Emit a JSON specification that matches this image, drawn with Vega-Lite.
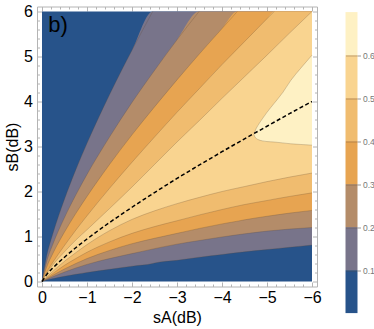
{
  "$schema": "https://vega.github.io/schema/vega-lite/v6.json",
  "padding": {"left": 4, "top": 2.5, "right": 0, "bottom": 0},
  "background": "white",
  "config": {"view": {"stroke": null}, "font": "Liberation Sans", "axis": {"grid": false}},
  "datasets": {
    "bg": [{"sA": 0, "sA2": -6, "sB": 0, "sB2": 6}],
    "regions": [
      {"r": "0.1", "sA": 0, "lo": 0, "hi": 0}, {"r": "0.1", "sA": -0.1, "lo": 0.033, "hi": 0.55}, {"r": "0.1", "sA": -0.25, "lo": 0.068, "hi": 1.09}, {"r": "0.1", "sA": -0.5, "lo": 0.116, "hi": 1.83}, {"r": "0.1", "sA": -0.75, "lo": 0.16, "hi": 2.48}, {"r": "0.1", "sA": -1, "lo": 0.2, "hi": 3.07}, {"r": "0.1", "sA": -1.5, "lo": 0.27, "hi": 4.15}, {"r": "0.1", "sA": -2, "lo": 0.34, "hi": 5.14}, {"r": "0.1", "sA": -2.46, "lo": 0.4, "hi": 6}, {"r": "0.1", "sA": -2.5, "lo": 0.41, "hi": 6}, {"r": "0.1", "sA": -3, "lo": 0.47, "hi": 6}, {"r": "0.1", "sA": -3.5, "lo": 0.54, "hi": 6}, {"r": "0.1", "sA": -4, "lo": 0.6, "hi": 6}, {"r": "0.1", "sA": -4.5, "lo": 0.66, "hi": 6}, {"r": "0.1", "sA": -5, "lo": 0.71, "hi": 6}, {"r": "0.1", "sA": -5.5, "lo": 0.76, "hi": 6}, {"r": "0.1", "sA": -6, "lo": 0.81, "hi": 6},
      {"r": "0.2", "sA": 0, "lo": 0, "hi": 0}, {"r": "0.2", "sA": -0.1, "lo": 0.045, "hi": 0.43}, {"r": "0.2", "sA": -0.25, "lo": 0.11, "hi": 0.85}, {"r": "0.2", "sA": -0.5, "lo": 0.21, "hi": 1.42}, {"r": "0.2", "sA": -0.75, "lo": 0.3, "hi": 1.92}, {"r": "0.2", "sA": -1, "lo": 0.38, "hi": 2.38}, {"r": "0.2", "sA": -1.5, "lo": 0.51, "hi": 3.21}, {"r": "0.2", "sA": -2, "lo": 0.62, "hi": 3.98}, {"r": "0.2", "sA": -2.5, "lo": 0.73, "hi": 4.69}, {"r": "0.2", "sA": -3, "lo": 0.83, "hi": 5.37}, {"r": "0.2", "sA": -3.49, "lo": 0.91, "hi": 6}, {"r": "0.2", "sA": -4, "lo": 0.99, "hi": 6}, {"r": "0.2", "sA": -4.5, "lo": 1.06, "hi": 6}, {"r": "0.2", "sA": -5, "lo": 1.12, "hi": 6}, {"r": "0.2", "sA": -5.5, "lo": 1.165, "hi": 6}, {"r": "0.2", "sA": -6, "lo": 1.2, "hi": 6},
      {"r": "0.3", "sA": 0, "lo": 0, "hi": 0}, {"r": "0.3", "sA": -0.1, "lo": 0.06, "hi": 0.31}, {"r": "0.3", "sA": -0.25, "lo": 0.145, "hi": 0.64}, {"r": "0.3", "sA": -0.5, "lo": 0.28, "hi": 1.1}, {"r": "0.3", "sA": -0.75, "lo": 0.4, "hi": 1.51}, {"r": "0.3", "sA": -1, "lo": 0.51, "hi": 1.89}, {"r": "0.3", "sA": -1.5, "lo": 0.69, "hi": 2.6}, {"r": "0.3", "sA": -2, "lo": 0.84, "hi": 3.26}, {"r": "0.3", "sA": -2.5, "lo": 0.96, "hi": 3.88}, {"r": "0.3", "sA": -3, "lo": 1.07, "hi": 4.48}, {"r": "0.3", "sA": -3.5, "lo": 1.18, "hi": 5.06}, {"r": "0.3", "sA": -4, "lo": 1.28, "hi": 5.62}, {"r": "0.3", "sA": -4.34, "lo": 1.34, "hi": 6}, {"r": "0.3", "sA": -4.5, "lo": 1.37, "hi": 6}, {"r": "0.3", "sA": -5, "lo": 1.45, "hi": 6}, {"r": "0.3", "sA": -5.5, "lo": 1.52, "hi": 6}, {"r": "0.3", "sA": -6, "lo": 1.58, "hi": 6},
      {"r": "0.4", "sA": 0, "lo": 0, "hi": 0}, {"r": "0.4", "sA": -0.1, "lo": 0.075, "hi": 0.2}, {"r": "0.4", "sA": -0.25, "lo": 0.185, "hi": 0.44}, {"r": "0.4", "sA": -0.5, "lo": 0.36, "hi": 0.8}, {"r": "0.4", "sA": -0.75, "lo": 0.51, "hi": 1.14}, {"r": "0.4", "sA": -1, "lo": 0.65, "hi": 1.46}, {"r": "0.4", "sA": -1.5, "lo": 0.88, "hi": 2.07}, {"r": "0.4", "sA": -2, "lo": 1.07, "hi": 2.65}, {"r": "0.4", "sA": -2.5, "lo": 1.22, "hi": 3.21}, {"r": "0.4", "sA": -3, "lo": 1.35, "hi": 3.76}, {"r": "0.4", "sA": -3.5, "lo": 1.48, "hi": 4.29}, {"r": "0.4", "sA": -4, "lo": 1.6, "hi": 4.82}, {"r": "0.4", "sA": -4.5, "lo": 1.71, "hi": 5.33}, {"r": "0.4", "sA": -5, "lo": 1.8, "hi": 5.84}, {"r": "0.4", "sA": -5.16, "lo": 1.83, "hi": 6}, {"r": "0.4", "sA": -5.5, "lo": 1.89, "hi": 6}, {"r": "0.4", "sA": -6, "lo": 1.97, "hi": 6},
      {"r": "0.5", "sA": 0, "lo": 0, "hi": 0}, {"r": "0.5", "sA": -0.1, "lo": 0.095, "hi": 0.17}, {"r": "0.5", "sA": -0.25, "lo": 0.235, "hi": 0.38}, {"r": "0.5", "sA": -0.5, "lo": 0.45, "hi": 0.66}, {"r": "0.5", "sA": -0.75, "lo": 0.64, "hi": 0.92}, {"r": "0.5", "sA": -1, "lo": 0.82, "hi": 1.15}, {"r": "0.5", "sA": -1.5, "lo": 1.13, "hi": 1.62}, {"r": "0.5", "sA": -2, "lo": 1.38, "hi": 2.1}, {"r": "0.5", "sA": -2.5, "lo": 1.57, "hi": 2.6}, {"r": "0.5", "sA": -3, "lo": 1.73, "hi": 3.1}, {"r": "0.5", "sA": -3.5, "lo": 1.87, "hi": 3.58}, {"r": "0.5", "sA": -4, "lo": 2.0, "hi": 4.07}, {"r": "0.5", "sA": -4.5, "lo": 2.11, "hi": 4.55}, {"r": "0.5", "sA": -5, "lo": 2.22, "hi": 5.03}, {"r": "0.5", "sA": -5.5, "lo": 2.32, "hi": 5.52}, {"r": "0.5", "sA": -6, "lo": 2.41, "hi": 6.0},
      {"r": "0.6", "sA": -4.71, "lo": 3.27, "hi": 3.27}, {"r": "0.6", "sA": -4.73, "lo": 3.215, "hi": 3.33}, {"r": "0.6", "sA": -4.76, "lo": 3.18, "hi": 3.4}, {"r": "0.6", "sA": -4.8, "lo": 3.155, "hi": 3.47}, {"r": "0.6", "sA": -4.9, "lo": 3.125, "hi": 3.62}, {"r": "0.6", "sA": -5, "lo": 3.11, "hi": 3.76}, {"r": "0.6", "sA": -5.16, "lo": 3.1, "hi": 3.96}, {"r": "0.6", "sA": -5.35, "lo": 3.08, "hi": 4.2}, {"r": "0.6", "sA": -5.53, "lo": 3.06, "hi": 4.47}, {"r": "0.6", "sA": -5.75, "lo": 3.045, "hi": 4.74}, {"r": "0.6", "sA": -6, "lo": 3.03, "hi": 5.03}
    ],
    "up": [
      {"c": "U1", "sA": 0, "sB": 0}, {"c": "U1", "sA": -0.1, "sB": 0.55}, {"c": "U1", "sA": -0.25, "sB": 1.09}, {"c": "U1", "sA": -0.5, "sB": 1.83}, {"c": "U1", "sA": -0.75, "sB": 2.48}, {"c": "U1", "sA": -1, "sB": 3.07}, {"c": "U1", "sA": -1.5, "sB": 4.15}, {"c": "U1", "sA": -2, "sB": 5.14}, {"c": "U1", "sA": -2.46, "sB": 6},
      {"c": "U2", "sA": 0, "sB": 0}, {"c": "U2", "sA": -0.1, "sB": 0.43}, {"c": "U2", "sA": -0.25, "sB": 0.85}, {"c": "U2", "sA": -0.5, "sB": 1.42}, {"c": "U2", "sA": -0.75, "sB": 1.92}, {"c": "U2", "sA": -1, "sB": 2.38}, {"c": "U2", "sA": -1.5, "sB": 3.21}, {"c": "U2", "sA": -2, "sB": 3.98}, {"c": "U2", "sA": -2.5, "sB": 4.69}, {"c": "U2", "sA": -3, "sB": 5.37}, {"c": "U2", "sA": -3.49, "sB": 6},
      {"c": "U3", "sA": 0, "sB": 0}, {"c": "U3", "sA": -0.1, "sB": 0.31}, {"c": "U3", "sA": -0.25, "sB": 0.64}, {"c": "U3", "sA": -0.5, "sB": 1.1}, {"c": "U3", "sA": -0.75, "sB": 1.51}, {"c": "U3", "sA": -1, "sB": 1.89}, {"c": "U3", "sA": -1.5, "sB": 2.6}, {"c": "U3", "sA": -2, "sB": 3.26}, {"c": "U3", "sA": -2.5, "sB": 3.88}, {"c": "U3", "sA": -3, "sB": 4.48}, {"c": "U3", "sA": -3.5, "sB": 5.06}, {"c": "U3", "sA": -4, "sB": 5.62}, {"c": "U3", "sA": -4.34, "sB": 6},
      {"c": "U4", "sA": 0, "sB": 0}, {"c": "U4", "sA": -0.1, "sB": 0.2}, {"c": "U4", "sA": -0.25, "sB": 0.44}, {"c": "U4", "sA": -0.5, "sB": 0.8}, {"c": "U4", "sA": -0.75, "sB": 1.14}, {"c": "U4", "sA": -1, "sB": 1.46}, {"c": "U4", "sA": -1.5, "sB": 2.07}, {"c": "U4", "sA": -2, "sB": 2.65}, {"c": "U4", "sA": -2.5, "sB": 3.21}, {"c": "U4", "sA": -3, "sB": 3.76}, {"c": "U4", "sA": -3.5, "sB": 4.29}, {"c": "U4", "sA": -4, "sB": 4.82}, {"c": "U4", "sA": -4.5, "sB": 5.33}, {"c": "U4", "sA": -5, "sB": 5.84}, {"c": "U4", "sA": -5.16, "sB": 6},
      {"c": "U5", "sA": 0, "sB": 0}, {"c": "U5", "sA": -0.1, "sB": 0.17}, {"c": "U5", "sA": -0.25, "sB": 0.38}, {"c": "U5", "sA": -0.5, "sB": 0.66}, {"c": "U5", "sA": -0.75, "sB": 0.92}, {"c": "U5", "sA": -1, "sB": 1.15}, {"c": "U5", "sA": -1.5, "sB": 1.62}, {"c": "U5", "sA": -2, "sB": 2.1}, {"c": "U5", "sA": -2.5, "sB": 2.6}, {"c": "U5", "sA": -3, "sB": 3.1}, {"c": "U5", "sA": -3.5, "sB": 3.58}, {"c": "U5", "sA": -4, "sB": 4.07}, {"c": "U5", "sA": -4.5, "sB": 4.55}, {"c": "U5", "sA": -5, "sB": 5.03}, {"c": "U5", "sA": -5.5, "sB": 5.52}, {"c": "U5", "sA": -6, "sB": 6.0},
      {"c": "U6", "sA": -4.71, "sB": 3.27}, {"c": "U6", "sA": -4.73, "sB": 3.33}, {"c": "U6", "sA": -4.76, "sB": 3.4}, {"c": "U6", "sA": -4.8, "sB": 3.47}, {"c": "U6", "sA": -4.9, "sB": 3.62}, {"c": "U6", "sA": -5, "sB": 3.76}, {"c": "U6", "sA": -5.16, "sB": 3.96}, {"c": "U6", "sA": -5.35, "sB": 4.2}, {"c": "U6", "sA": -5.53, "sB": 4.47}, {"c": "U6", "sA": -5.75, "sB": 4.74}, {"c": "U6", "sA": -6, "sB": 5.03}
    ],
    "dash": [
      {"sA": 0, "sB": 0}, {"sA": -0.1, "sB": 0.148}, {"sA": -0.25, "sB": 0.31}, {"sA": -0.5, "sB": 0.54}, {"sA": -0.75, "sB": 0.75}, {"sA": -1, "sB": 0.945}, {"sA": -1.5, "sB": 1.31}, {"sA": -2, "sB": 1.65}, {"sA": -2.5, "sB": 1.976}, {"sA": -3, "sB": 2.29}, {"sA": -3.5, "sB": 2.59}, {"sA": -4, "sB": 2.884}, {"sA": -4.5, "sB": 3.17}, {"sA": -5, "sB": 3.45}, {"sA": -5.5, "sB": 3.73}, {"sA": -6, "sB": 4.0}
    ],
    "label": [{"sA": -0.14, "sB": 5.55, "t": "b)"}],
    "bands": [
      {"band": "b0", "lo": 0, "hi": 0.1}, {"band": "b1", "lo": 0.1, "hi": 0.2}, {"band": "b2", "lo": 0.2, "hi": 0.3}, {"band": "b3", "lo": 0.3, "hi": 0.4}, {"band": "b4", "lo": 0.4, "hi": 0.5}, {"band": "b5", "lo": 0.5, "hi": 0.6}, {"band": "b6", "lo": 0.6, "hi": 0.7}
    ]
  },
  "hconcat": [
    {
      "width": 280,
      "height": 280,
      "layer": [
        {
          "data": {"name": "bg"},
          "mark": {"type": "rect", "color": "#27538a"},
          "encoding": {
            "x": {"field": "sA", "type": "quantitative", "scale": {"domain": [0.1111, -6.1111], "nice": false, "zero": false},
              "axis": {"orient": "bottom", "values": [0, -1, -2, -3, -4, -5, -6], "format": "d", "tickSize": -4.5,
                "domainColor": "#b4b4b4", "tickColor": "#b4b4b4", "labelColor": "black", "labelFontSize": 16, "labelFont": "Liberation Sans", "labelPadding": 7, "labelOverlap": false, "labelFlush": false,
                "title": "sA(dB)", "titleFontSize": 16, "titleFont": "Liberation Sans", "titleFontWeight": "normal", "titleColor": "black", "titlePadding": 4.5}},
            "x2": {"field": "sA2"},
            "y": {"field": "sB", "type": "quantitative", "scale": {"domain": [-0.1111, 6.1111], "nice": false, "zero": false},
              "axis": {"orient": "left", "values": [0, 1, 2, 3, 4, 5, 6], "format": "d", "tickSize": -4.5,
                "domainColor": "#b4b4b4", "tickColor": "#b4b4b4", "labelColor": "black", "labelFontSize": 16, "labelFont": "Liberation Sans", "labelPadding": 9, "labelOverlap": false, "labelFlush": false,
                "title": "sB(dB)", "titleFontSize": 16, "titleFont": "Liberation Sans", "titleFontWeight": "normal", "titleColor": "black", "titlePadding": 3}},
            "y2": {"field": "sB2"}
          }
        },
        {
          "data": {"name": "regions"},
          "transform": [{"filter": {"field": "r", "equal": "0.1"}}],
          "mark": {"type": "area", "color": "#78748a", "interpolate": "monotone", "clip": true},
          "encoding": {
            "x": {"field": "sA", "type": "quantitative", "scale": {"domain": [0.1111, -6.1111], "nice": false, "zero": false},
              "axis": {"orient": "bottom", "values": [-0.2, -0.4, -0.6, -0.8, -1.2, -1.4, -1.6, -1.8, -2.2, -2.4, -2.6, -2.8, -3.2, -3.4, -3.6, -3.8, -4.2, -4.4, -4.6, -4.8, -5.2, -5.4, -5.6, -5.8],
                "labels": false, "title": null, "domain": false, "tickSize": -2.5, "tickColor": "#b4b4b4"}},
            "y": {"field": "lo", "type": "quantitative", "scale": {"domain": [-0.1111, 6.1111], "nice": false, "zero": false},
              "axis": {"orient": "left", "values": [0.2, 0.4, 0.6, 0.8, 1.2, 1.4, 1.6, 1.8, 2.2, 2.4, 2.6, 2.8, 3.2, 3.4, 3.6, 3.8, 4.2, 4.4, 4.6, 4.8, 5.2, 5.4, 5.6, 5.8],
                "labels": false, "title": null, "domain": false, "tickSize": -2.5, "tickColor": "#b4b4b4"}},
            "y2": {"field": "hi"}
          }
        },
        {
          "data": {"name": "regions"},
          "transform": [{"filter": {"field": "r", "equal": "0.2"}}],
          "mark": {"type": "area", "color": "#b48c69", "interpolate": "monotone", "clip": true},
          "encoding": {
            "x": {"field": "sA", "type": "quantitative", "scale": {"domain": [0.1111, -6.1111], "nice": false, "zero": false},
              "axis": {"orient": "top", "values": [0, -1, -2, -3, -4, -5, -6], "labels": false, "title": null, "tickSize": -4.5, "domainColor": "#b4b4b4", "tickColor": "#b4b4b4"}},
            "y": {"field": "lo", "type": "quantitative", "scale": {"domain": [-0.1111, 6.1111], "nice": false, "zero": false},
              "axis": {"orient": "right", "values": [0, 1, 2, 3, 4, 5, 6], "labels": false, "title": null, "tickSize": -4.5, "domainColor": "#b4b4b4", "tickColor": "#b4b4b4"}},
            "y2": {"field": "hi"}
          }
        },
        {
          "data": {"name": "regions"},
          "transform": [{"filter": {"field": "r", "equal": "0.3"}}],
          "mark": {"type": "area", "color": "#e7a451", "interpolate": "monotone", "clip": true},
          "encoding": {
            "x": {"field": "sA", "type": "quantitative", "scale": {"domain": [0.1111, -6.1111], "nice": false, "zero": false},
              "axis": {"orient": "top", "values": [-0.2, -0.4, -0.6, -0.8, -1.2, -1.4, -1.6, -1.8, -2.2, -2.4, -2.6, -2.8, -3.2, -3.4, -3.6, -3.8, -4.2, -4.4, -4.6, -4.8, -5.2, -5.4, -5.6, -5.8],
                "labels": false, "title": null, "domain": false, "tickSize": -2.5, "tickColor": "#b4b4b4"}},
            "y": {"field": "lo", "type": "quantitative", "scale": {"domain": [-0.1111, 6.1111], "nice": false, "zero": false},
              "axis": {"orient": "right", "values": [0.2, 0.4, 0.6, 0.8, 1.2, 1.4, 1.6, 1.8, 2.2, 2.4, 2.6, 2.8, 3.2, 3.4, 3.6, 3.8, 4.2, 4.4, 4.6, 4.8, 5.2, 5.4, 5.6, 5.8],
                "labels": false, "title": null, "domain": false, "tickSize": -2.5, "tickColor": "#b4b4b4"}},
            "y2": {"field": "hi"}
          }
        },
        {
          "data": {"name": "regions"},
          "transform": [{"filter": {"field": "r", "equal": "0.4"}}],
          "mark": {"type": "area", "color": "#f0bc6f", "interpolate": "monotone", "clip": true},
          "encoding": {
            "x": {"field": "sA", "type": "quantitative", "scale": {"domain": [0.1111, -6.1111], "nice": false, "zero": false}, "axis": null},
            "y": {"field": "lo", "type": "quantitative", "scale": {"domain": [-0.1111, 6.1111], "nice": false, "zero": false}, "axis": null},
            "y2": {"field": "hi"}
          }
        },
        {
          "data": {"name": "regions"},
          "transform": [{"filter": {"field": "r", "equal": "0.5"}}],
          "mark": {"type": "area", "color": "#f9d490", "interpolate": "monotone", "clip": true},
          "encoding": {
            "x": {"field": "sA", "type": "quantitative", "scale": {"domain": [0.1111, -6.1111], "nice": false, "zero": false}, "axis": null},
            "y": {"field": "lo", "type": "quantitative", "scale": {"domain": [-0.1111, 6.1111], "nice": false, "zero": false}, "axis": null},
            "y2": {"field": "hi"}
          }
        },
        {
          "data": {"name": "regions"},
          "transform": [{"filter": {"field": "r", "equal": "0.6"}}],
          "mark": {"type": "area", "color": "#fef1c4", "interpolate": "monotone", "clip": true},
          "encoding": {
            "x": {"field": "sA", "type": "quantitative", "scale": {"domain": [0.1111, -6.1111], "nice": false, "zero": false}, "axis": null},
            "y": {"field": "lo", "type": "quantitative", "scale": {"domain": [-0.1111, 6.1111], "nice": false, "zero": false}, "axis": null},
            "y2": {"field": "hi"}
          }
        },
        {
          "data": {"name": "regions"},
          "mark": {"type": "line", "color": "#5a4630", "opacity": 0.35, "strokeWidth": 0.7, "interpolate": "monotone", "clip": true},
          "encoding": {
            "x": {"field": "sA", "type": "quantitative", "scale": {"domain": [0.1111, -6.1111], "nice": false, "zero": false}, "axis": null},
            "y": {"field": "lo", "type": "quantitative", "scale": {"domain": [-0.1111, 6.1111], "nice": false, "zero": false}, "axis": null},
            "detail": {"field": "r", "type": "nominal"}
          }
        },
        {
          "data": {"name": "up"},
          "mark": {"type": "line", "color": "#5a4630", "opacity": 0.35, "strokeWidth": 0.7, "interpolate": "monotone", "clip": true},
          "encoding": {
            "x": {"field": "sA", "type": "quantitative", "scale": {"domain": [0.1111, -6.1111], "nice": false, "zero": false}, "axis": null},
            "y": {"field": "sB", "type": "quantitative", "scale": {"domain": [-0.1111, 6.1111], "nice": false, "zero": false}, "axis": null},
            "detail": {"field": "c", "type": "nominal"}
          }
        },
        {
          "data": {"name": "dash"},
          "mark": {"type": "line", "color": "black", "strokeWidth": 1.5, "strokeDash": [4, 2.5], "interpolate": "monotone", "clip": true},
          "encoding": {
            "x": {"field": "sA", "type": "quantitative", "scale": {"domain": [0.1111, -6.1111], "nice": false, "zero": false}, "axis": null},
            "y": {"field": "sB", "type": "quantitative", "scale": {"domain": [-0.1111, 6.1111], "nice": false, "zero": false}, "axis": null}
          }
        },
        {
          "data": {"name": "label"},
          "mark": {"type": "text", "align": "left", "baseline": "alphabetic", "fontSize": 22, "font": "Liberation Sans", "color": "black"},
          "encoding": {
            "x": {"field": "sA", "type": "quantitative", "scale": {"domain": [0.1111, -6.1111], "nice": false, "zero": false}, "axis": null},
            "y": {"field": "sB", "type": "quantitative", "scale": {"domain": [-0.1111, 6.1111], "nice": false, "zero": false}, "axis": null},
            "text": {"field": "t"}
          }
        }
      ],
      "resolve": {"axis": {"x": "independent", "y": "independent"}}
    },
    {
      "width": 12,
      "height": 306.6,
      "data": {"name": "bands"},
      "mark": {"type": "rect"},
      "encoding": {
        "y": {"field": "lo", "type": "quantitative", "scale": {"domain": [0, 0.713], "nice": false, "zero": false},
          "axis": {"orient": "right", "values": [0.1, 0.2, 0.3, 0.4, 0.5, 0.6], "format": ".1f", "grid": true, "gridColor": "#5a4630", "gridOpacity": 0.45, "gridWidth": 0.8, "zindex": 1,
            "domain": false, "tickSize": 3, "tickColor": "#999999", "labelColor": "#777777", "labelFontSize": 8.5, "labelFont": "Liberation Sans", "labelPadding": 2, "title": null}},
        "y2": {"field": "hi"},
        "fill": {"field": "band", "type": "nominal", "legend": null,
          "scale": {"domain": ["b0", "b1", "b2", "b3", "b4", "b5", "b6"], "range": ["#27538a", "#78748a", "#b48c69", "#e7a451", "#f0bc6f", "#f9d490", "#fef1c4"]}}
      }
    }
  ],
  "spacing": 23.5
}
